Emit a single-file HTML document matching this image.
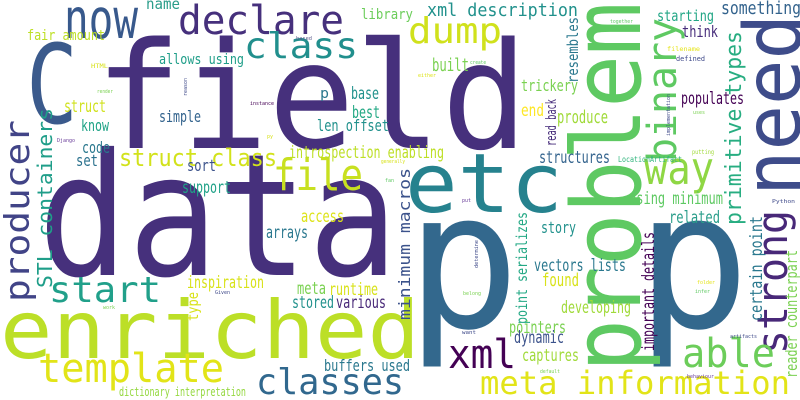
<!DOCTYPE html>
<html><head><meta charset="utf-8"><style>
html,body{margin:0;padding:0;background:#fff;}
svg{display:block;}
text{font-family:"DejaVu Sans Mono","Liberation Mono",monospace;}
</style></head><body>
<svg width="800" height="400" viewBox="0 0 800 400" xmlns="http://www.w3.org/2000/svg">
<rect width="800" height="400" fill="#fff"/>
<g>
<text x="95" y="148" font-size="148" fill="#46307c" textLength="433" lengthAdjust="spacingAndGlyphs">field</text>
<text x="38" y="275" font-size="170" fill="#46307c" textLength="360" lengthAdjust="spacingAndGlyphs">data</text>
<text x="406" y="327" font-size="190" fill="#33688d" textLength="114" lengthAdjust="spacingAndGlyphs">p</text>
<text x="636" y="327" font-size="190" fill="#33688d" textLength="114" lengthAdjust="spacingAndGlyphs">p</text>
<text x="0" y="358" font-size="80" fill="#bcdf27" textLength="420" lengthAdjust="spacingAndGlyphs">enriched</text>
<text x="405" y="212" font-size="82" fill="#26828e" textLength="158" lengthAdjust="spacingAndGlyphs">etc</text>
<text x="26" y="123" font-size="110" fill="#3b5a8c" textLength="52" lengthAdjust="spacingAndGlyphs">C</text>
<text transform="translate(640,372) rotate(-90)" font-size="95" fill="#5ec962" textLength="370" lengthAdjust="spacingAndGlyphs">problem</text>
<text transform="translate(800,196) rotate(-90)" font-size="78" fill="#3e4c8a" textLength="182" lengthAdjust="spacingAndGlyphs">need</text>
<text transform="translate(676,162) rotate(-90)" font-size="40" fill="#5ec962" textLength="144" lengthAdjust="spacingAndGlyphs">binary</text>
<text transform="translate(787,354) rotate(-90)" font-size="42" fill="#482878" textLength="144" lengthAdjust="spacingAndGlyphs">strong</text>
<text transform="translate(29,302) rotate(-90)" font-size="34" fill="#414487" textLength="182" lengthAdjust="spacingAndGlyphs">producer</text>
<text transform="translate(52,288) rotate(-90)" font-size="20" fill="#1f9e89" textLength="180" lengthAdjust="spacingAndGlyphs">STL containers</text>
<text transform="translate(741,225) rotate(-90)" font-size="22" fill="#27ad81" textLength="194" lengthAdjust="spacingAndGlyphs">primitive types</text>
<text transform="translate(410,320) rotate(-90)" font-size="16" fill="#3b528b" textLength="152" lengthAdjust="spacingAndGlyphs">minimum macros</text>
<text transform="translate(578,83) rotate(-90)" font-size="15" fill="#2a788e" textLength="66" lengthAdjust="spacingAndGlyphs">resembles</text>
<text transform="translate(556,146) rotate(-90)" font-size="14" fill="#472d7b" textLength="47" lengthAdjust="spacingAndGlyphs">read back</text>
<text transform="translate(762,321) rotate(-90)" font-size="17" fill="#2a788e" textLength="105" lengthAdjust="spacingAndGlyphs">certain point</text>
<text transform="translate(797,378) rotate(-90)" font-size="16" fill="#7ad151" textLength="128" lengthAdjust="spacingAndGlyphs">reader counterpart</text>
<text transform="translate(654,351) rotate(-90)" font-size="17" fill="#440154" textLength="119" lengthAdjust="spacingAndGlyphs">important details</text>
<text transform="translate(527,324) rotate(-90)" font-size="15" fill="#22a884" textLength="112" lengthAdjust="spacingAndGlyphs">point serializes</text>
<text transform="translate(198,321) rotate(-90)" font-size="15" fill="#d8e219" textLength="29" lengthAdjust="spacingAndGlyphs">type</text>
<text transform="translate(670,136) rotate(-90)" font-size="5" fill="#3e4989" textLength="42" lengthAdjust="spacingAndGlyphs">implementation</text>
<text transform="translate(478,268) rotate(-90)" font-size="5" fill="#3e4989" textLength="28" lengthAdjust="spacingAndGlyphs">determine</text>
<text transform="translate(187,96) rotate(-90)" font-size="5" fill="#3e4989" textLength="18" lengthAdjust="spacingAndGlyphs">reason</text>

<text x="64" y="38" font-size="55" fill="#38598c" textLength="74" lengthAdjust="spacingAndGlyphs">now</text>
<text x="178" y="34" font-size="40" fill="#46307c" textLength="166" lengthAdjust="spacingAndGlyphs">declare</text>
<text x="244" y="58" font-size="36" fill="#218f8d" textLength="114" lengthAdjust="spacingAndGlyphs">class</text>
<text x="408" y="43" font-size="36" fill="#d0e11c" textLength="94" lengthAdjust="spacingAndGlyphs">dump</text>
<text x="273" y="190" font-size="44" fill="#c8e020" textLength="90" lengthAdjust="spacingAndGlyphs">file</text>
<text x="119" y="166" font-size="24" fill="#d2e21b" textLength="158" lengthAdjust="spacingAndGlyphs">struct class</text>
<text x="49" y="302" font-size="36" fill="#21a08a" textLength="112" lengthAdjust="spacingAndGlyphs">start</text>
<text x="38" y="382" font-size="40" fill="#e2e418" textLength="186" lengthAdjust="spacingAndGlyphs">template</text>
<text x="256" y="394" font-size="36" fill="#31688e" textLength="148" lengthAdjust="spacingAndGlyphs">classes</text>
<text x="644" y="184" font-size="45" fill="#8fd744" textLength="70" lengthAdjust="spacingAndGlyphs">way</text>
<text x="448" y="368" font-size="40" fill="#440154" textLength="68" lengthAdjust="spacingAndGlyphs">xml</text>
<text x="682" y="367" font-size="40" fill="#6ccd5a" textLength="93" lengthAdjust="spacingAndGlyphs">able</text>
<text x="480" y="394" font-size="32" fill="#e2e418" textLength="310" lengthAdjust="spacingAndGlyphs">meta information</text>

<text x="146" y="9" font-size="15" fill="#2a9d8a" textLength="34" lengthAdjust="spacingAndGlyphs">name</text>
<text x="361" y="19" font-size="14" fill="#6ccd5a" textLength="52" lengthAdjust="spacingAndGlyphs">library</text>
<text x="27" y="40" font-size="14" fill="#bddf26" textLength="78" lengthAdjust="spacingAndGlyphs">fair amount</text>
<text x="159" y="64" font-size="14" fill="#1f9e89" textLength="85" lengthAdjust="spacingAndGlyphs">allows using</text>
<text x="91" y="68" font-size="6" fill="#d8e219" textLength="17" lengthAdjust="spacingAndGlyphs">HTML</text>
<text x="296" y="40" font-size="5" fill="#5a5a8a" textLength="16" lengthAdjust="spacingAndGlyphs">based</text>
<text x="97" y="93" font-size="5" fill="#7ad151" textLength="16" lengthAdjust="spacingAndGlyphs">render</text>
<text x="250" y="105" font-size="5" fill="#440154" textLength="24" lengthAdjust="spacingAndGlyphs">instance</text>
<text x="320" y="98" font-size="14" fill="#2a788e" textLength="9" lengthAdjust="spacingAndGlyphs">p</text>
<text x="351" y="99" font-size="17" fill="#21918c" textLength="28" lengthAdjust="spacingAndGlyphs">base</text>
<text x="352" y="118" font-size="17" fill="#22a884" textLength="28" lengthAdjust="spacingAndGlyphs">best</text>
<text x="317" y="131" font-size="16" fill="#21918c" textLength="72" lengthAdjust="spacingAndGlyphs">len offset</text>
<text x="64" y="112" font-size="17" fill="#d0e11c" textLength="42" lengthAdjust="spacingAndGlyphs">struct</text>
<text x="159" y="122" font-size="16" fill="#33638d" textLength="42" lengthAdjust="spacingAndGlyphs">simple</text>
<text x="81" y="131" font-size="16" fill="#20a386" textLength="28" lengthAdjust="spacingAndGlyphs">know</text>
<text x="57" y="142" font-size="5" fill="#6a3d9a" textLength="18" lengthAdjust="spacingAndGlyphs">Django</text>
<text x="267" y="138" font-size="5" fill="#d8e219" textLength="6" lengthAdjust="spacingAndGlyphs">py</text>
<text x="82" y="153" font-size="16" fill="#2a788e" textLength="28" lengthAdjust="spacingAndGlyphs">code</text>
<text x="289" y="158" font-size="17" fill="#bddf26" textLength="155" lengthAdjust="spacingAndGlyphs">introspection enabling</text>
<text x="76" y="166" font-size="16" fill="#2c728e" textLength="22" lengthAdjust="spacingAndGlyphs">set</text>
<text x="187" y="171" font-size="16" fill="#3b528b" textLength="29" lengthAdjust="spacingAndGlyphs">sort</text>
<text x="182" y="193" font-size="17" fill="#1fa187" textLength="49" lengthAdjust="spacingAndGlyphs">support</text>
<text x="381" y="163" font-size="5" fill="#d8e219" textLength="24" lengthAdjust="spacingAndGlyphs">generally</text>
<text x="385" y="182" font-size="5" fill="#5ec962" textLength="9" lengthAdjust="spacingAndGlyphs">fan</text>

<text x="427" y="16" font-size="18" fill="#21918c" textLength="151" lengthAdjust="spacingAndGlyphs">xml description</text>
<text x="721" y="14" font-size="18" fill="#33638d" textLength="80" lengthAdjust="spacingAndGlyphs">something</text>
<text x="657" y="21" font-size="15" fill="#21a685" textLength="57" lengthAdjust="spacingAndGlyphs">starting</text>
<text x="610" y="23" font-size="5" fill="#5ec962" textLength="23" lengthAdjust="spacingAndGlyphs">together</text>
<text x="682" y="37" font-size="16" fill="#472d7b" textLength="36" lengthAdjust="spacingAndGlyphs">think</text>
<text x="667" y="51" font-size="6" fill="#e5e419" textLength="33" lengthAdjust="spacingAndGlyphs">filename</text>
<text x="676" y="61" font-size="7" fill="#3e4989" textLength="29" lengthAdjust="spacingAndGlyphs">defined</text>
<text x="432" y="71" font-size="18" fill="#7ad151" textLength="37" lengthAdjust="spacingAndGlyphs">built</text>
<text x="470" y="64" font-size="5" fill="#5ec962" textLength="16" lengthAdjust="spacingAndGlyphs">create</text>
<text x="418" y="77" font-size="5" fill="#dde318" textLength="18" lengthAdjust="spacingAndGlyphs">either</text>
<text x="521" y="91" font-size="16" fill="#7ad151" textLength="57" lengthAdjust="spacingAndGlyphs">trickery</text>
<text x="681" y="104" font-size="17" fill="#440154" textLength="63" lengthAdjust="spacingAndGlyphs">populates</text>
<text x="521" y="116" font-size="17" fill="#fde725" textLength="23" lengthAdjust="spacingAndGlyphs">end</text>
<text x="557" y="123" font-size="18" fill="#a0da39" textLength="51" lengthAdjust="spacingAndGlyphs">produce</text>
<text x="693" y="114" font-size="5" fill="#7ad151" textLength="12" lengthAdjust="spacingAndGlyphs">uses</text>
<text x="539" y="163" font-size="17" fill="#33638d" textLength="71" lengthAdjust="spacingAndGlyphs">structures</text>
<text x="618" y="162" font-size="8" fill="#2fb47c" textLength="64" lengthAdjust="spacingAndGlyphs">LocationArtifact</text>
<text x="692" y="154" font-size="6" fill="#a0da39" textLength="22" lengthAdjust="spacingAndGlyphs">putting</text>
<text x="629" y="204" font-size="17" fill="#5ec962" textLength="94" lengthAdjust="spacingAndGlyphs">using minimum</text>
<text x="772" y="203" font-size="5" fill="#3e4989" textLength="23" lengthAdjust="spacingAndGlyphs">Python</text>
<text x="669" y="223" font-size="17" fill="#2a9d8a" textLength="51" lengthAdjust="spacingAndGlyphs">related</text>
<text x="541" y="233" font-size="16" fill="#21918c" textLength="35" lengthAdjust="spacingAndGlyphs">story</text>
<text x="534" y="271" font-size="17" fill="#2a788e" textLength="92" lengthAdjust="spacingAndGlyphs">vectors lists</text>
<text x="542" y="286" font-size="18" fill="#d8e219" textLength="37" lengthAdjust="spacingAndGlyphs">found</text>
<text x="561" y="313" font-size="17" fill="#a0da39" textLength="70" lengthAdjust="spacingAndGlyphs">developing</text>
<text x="509" y="333" font-size="17" fill="#7ad151" textLength="57" lengthAdjust="spacingAndGlyphs">pointers</text>
<text x="514" y="343" font-size="17" fill="#3b528b" textLength="50" lengthAdjust="spacingAndGlyphs">dynamic</text>
<text x="522" y="361" font-size="17" fill="#a0da39" textLength="57" lengthAdjust="spacingAndGlyphs">captures</text>
<text x="462" y="202" font-size="5" fill="#6a3d9a" textLength="9" lengthAdjust="spacingAndGlyphs">put</text>
<text x="463" y="295" font-size="5" fill="#7ad151" textLength="18" lengthAdjust="spacingAndGlyphs">belong</text>
<text x="462" y="334" font-size="5" fill="#3e4989" textLength="14" lengthAdjust="spacingAndGlyphs">want</text>
<text x="540" y="373" font-size="5" fill="#7ad151" textLength="20" lengthAdjust="spacingAndGlyphs">default</text>
<text x="697" y="284" font-size="5" fill="#e5e419" textLength="18" lengthAdjust="spacingAndGlyphs">folder</text>
<text x="695" y="293" font-size="5" fill="#5ec962" textLength="15" lengthAdjust="spacingAndGlyphs">infer</text>
<text x="730" y="338" font-size="5" fill="#3e4989" textLength="27" lengthAdjust="spacingAndGlyphs">artifacts</text>
<text x="687" y="378" font-size="5" fill="#6a3d9a" textLength="27" lengthAdjust="spacingAndGlyphs">behaviour</text>

<text x="301" y="222" font-size="17" fill="#dde318" textLength="43" lengthAdjust="spacingAndGlyphs">access</text>
<text x="266" y="238" font-size="17" fill="#2a788e" textLength="42" lengthAdjust="spacingAndGlyphs">arrays</text>
<text x="187" y="288" font-size="17" fill="#d8e219" textLength="77" lengthAdjust="spacingAndGlyphs">inspiration</text>
<text x="215" y="294" font-size="5" fill="#3e4989" textLength="15" lengthAdjust="spacingAndGlyphs">Given</text>
<text x="297" y="294" font-size="17" fill="#7ad151" textLength="29" lengthAdjust="spacingAndGlyphs">meta</text>
<text x="329" y="295" font-size="17" fill="#d8e219" textLength="49" lengthAdjust="spacingAndGlyphs">runtime</text>
<text x="292" y="308" font-size="17" fill="#21918c" textLength="42" lengthAdjust="spacingAndGlyphs">stored</text>
<text x="336" y="308" font-size="17" fill="#482878" textLength="50" lengthAdjust="spacingAndGlyphs">various</text>
<text x="103" y="309" font-size="5" fill="#7ad151" textLength="12" lengthAdjust="spacingAndGlyphs">work</text>
<text x="324" y="371" font-size="16" fill="#2a788e" textLength="86" lengthAdjust="spacingAndGlyphs">buffers used</text>
<text x="119" y="396" font-size="12" fill="#95d840" textLength="127" lengthAdjust="spacingAndGlyphs">dictionary interpretation</text>
</g>
</svg>
</body></html>
